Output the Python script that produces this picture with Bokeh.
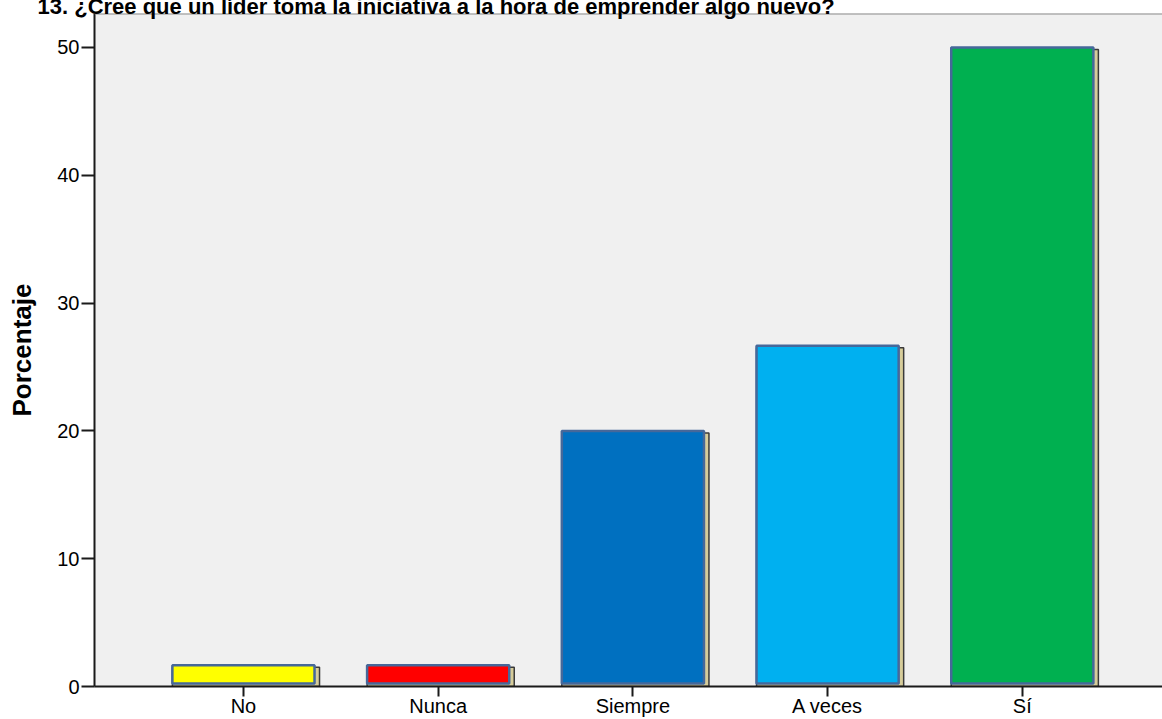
from bokeh.plotting import figure
from bokeh.models import ColumnDataSource, FixedTicker, Range1d, Span
from bokeh.embed import file_html
from bokeh.resources import INLINE

# Survey answers (percentage of respondents)
categories = ["No", "Nunca", "Siempre", "A veces", "Sí"]
percentages = [1.67, 1.67, 20.0, 26.67, 50.0]
bar_colors = ["#ffff00", "#ff0000", "#0070c0", "#00b0f0", "#00b050"]
y_ticks = [0, 10, 20, 30, 40, 50]
title_text = "13. ¿Cree que un líder toma la iniciativa a la hora de emprender algo nuevo?"

# Canvas and frame geometry
W, H = 1162, 719
LEFT, TOP, BOTTOM = 94, 13, 33
x_lo, x_hi = 0.235, 5.72
y_hi = 52.66
px_x = (W - LEFT) / (x_hi - x_lo)
px_y = (H - TOP - BOTTOM) / y_hi

FONT = "Liberation Sans"
BAR_W = 0.73
xs = list(range(1, len(categories) + 1))

# Bars sit slightly lifted, with a tan "depth" block behind them
source = ColumnDataSource(dict(
    x=xs,
    top=percentages,
    color=bar_colors,
    sh_left=[x - BAR_W / 2 for x in xs],
    sh_right=[x + BAR_W / 2 + 5 / px_x for x in xs],
    sh_top=[v - 2 / px_y for v in percentages],
))

p = figure(
    width=W, height=H,
    x_range=Range1d(x_lo, x_hi), y_range=Range1d(0, y_hi),
    output_backend="svg", toolbar_location=None,
    min_border_left=LEFT, min_border_top=TOP, min_border_bottom=BOTTOM, min_border_right=0,
)
p.background_fill_color = "#f0f0f0"
p.border_fill_color = "white"
p.outline_line_color = None
p.xgrid.visible = False
p.ygrid.visible = False

# Title hugging the top edge of the canvas
p.title.text = title_text
p.title.align = "left"
p.title.vertical_align = "top"
p.title.offset = -57
p.title.standoff = -14
p.title.text_font = FONT
p.title.text_font_size = "22px"
p.title.text_font_style = "bold"
p.title.text_color = "black"

p.quad(left="sh_left", right="sh_right", bottom=0, top="sh_top", source=source,
       fill_color="#d6cc9a", line_color="#3a3a3a", line_width=1.5)
p.vbar(x="x", width=BAR_W, bottom=3 / px_y, top="top", source=source,
       fill_color="color", line_color="#46689a", line_width=2.5)

# Axes
xa = p.xaxis[0]
xa.ticker = FixedTicker(ticks=xs)
xa.major_label_overrides = {x: c for x, c in zip(xs, categories)}
xa.major_tick_out = 10
xa.major_tick_in = 0
xa.minor_tick_out = 0
xa.minor_tick_in = 0
xa.major_label_standoff = -2
xa.major_label_text_font = FONT
xa.major_label_text_font_size = "20px"
xa.major_label_text_color = "black"
xa.axis_line_color = "#1a1a1a"
xa.axis_line_width = 2
xa.major_tick_line_color = "#1a1a1a"
xa.major_tick_line_width = 2

ya = p.yaxis[0]
ya.ticker = FixedTicker(ticks=y_ticks)
ya.major_tick_out = 13
ya.major_tick_in = 0
ya.minor_tick_out = 0
ya.minor_tick_in = 0
ya.major_label_standoff = 2
ya.major_label_text_font = FONT
ya.major_label_text_font_size = "20px"
ya.major_label_text_color = "black"
ya.axis_line_color = "#1a1a1a"
ya.axis_line_width = 2
ya.major_tick_line_color = "#1a1a1a"
ya.major_tick_line_width = 2
ya.axis_label = "Porcentaje"
ya.axis_label_text_font = FONT
ya.axis_label_text_font_size = "26px"
ya.axis_label_text_font_style = "bold"
ya.axis_label_text_color = "black"
ya.axis_label_standoff = 17

# Gray rule along the top of the plotting area
p.add_layout(Span(location=y_hi, dimension="width", line_color="#8a8a8a", line_width=2))

open("out.html", "w").write(file_html(p, INLINE))
